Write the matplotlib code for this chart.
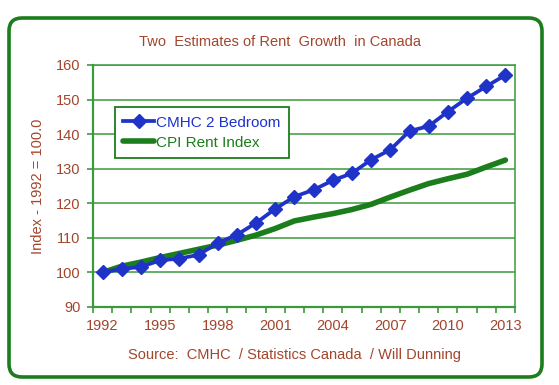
import matplotlib
matplotlib.use("Agg")
import matplotlib.pyplot as plt
from matplotlib.patches import FancyBboxPatch

years = list(range(1992, 2014))
cmhc = [100.0, 101.0, 101.6, 103.5, 104.0, 105.1, 108.5, 110.9, 114.3, 118.4, 121.9,
        123.9, 126.6, 128.7, 132.6, 135.5, 140.9, 142.3, 146.5, 150.4, 153.8, 157.1]
cpi = [100.0, 101.8, 103.0, 104.3, 105.5, 106.7, 107.9, 109.3, 110.8, 112.7, 114.9,
       116.0, 117.0, 118.2, 119.7, 121.8, 123.8, 125.7, 127.1, 128.4, 130.5, 132.5]
xtick_labels = [str(y) for y in years[::3]]
yticks = [90, 100, 110, 120, 130, 140, 150, 160]

W, H = 559, 385
brown = "#a3452c"
blue = "#1f33c8"
green = "#1b7d1b"
grid_green = "#3c9a3c"

plt.rcParams['font.family'] = ['Liberation Sans', 'DejaVu Sans']
fig = plt.figure(figsize=(W / 100, H / 100), dpi=100)

# background axes for border box
bg = fig.add_axes([0, 0, 1, 1], zorder=0)
bg.set_xlim(0, W)
bg.set_ylim(H, 0)
bg.axis('off')
bg.add_patch(FancyBboxPatch((9, 18), 533, 359, boxstyle="round,pad=0,rounding_size=13",
                            facecolor="white", edgecolor=green, linewidth=2.6))
bg.text(280, 42, "Two  Estimates of Rent  Growth  in Canada", ha='center', va='center',
        color=brown, fontsize=10.5)
bg.text(295, 355, "Source:  CMHC  / Statistics Canada  / Will Dunning", ha='center', va='center',
        color=brown, fontsize=10.5)
bg.text(38, 186, "Index - 1992 = 100.0", rotation=90, ha='center', va='center',
        color=brown, fontsize=10.5)

ax = fig.add_axes([93 / W, 1 - 307 / H, 422 / W, 242 / H], zorder=1)
ax.set_facecolor("none")
x = list(range(len(years)))
ax.plot(x, cpi, color=green, linewidth=4.0, label="CPI Rent Index", zorder=3, solid_capstyle='round')
ax.plot(x, cmhc, color=blue, linewidth=2.7, marker='D', markersize=7, markeredgecolor=blue,
        markerfacecolor=blue, label="CMHC 2 Bedroom", zorder=4)

ax.set_xlim(-0.5, len(years) - 0.5)
ax.set_ylim(90, 160)
ax.set_yticks(yticks)
ax.set_yticklabels([str(v) for v in yticks])
ax.set_xticks([i for i in range(0, len(years), 3)])
ax.set_xticklabels(xtick_labels)
ax.set_xticks([i - 0.5 for i in range(len(years) + 1)], minor=True)
ax.tick_params(axis='x', which='major', length=0, pad=9, labelcolor=brown, labelsize=10.5)
ax.tick_params(axis='x', which='minor', length=4, width=1.2, color=grid_green, direction='out')
ax.tick_params(axis='y', length=4, width=1.2, color=grid_green, labelcolor=brown, labelsize=10.5, pad=5)
ax.yaxis.grid(True, color=grid_green, linewidth=1.1)
ax.set_axisbelow(True)
for s in ax.spines.values():
    s.set_color(grid_green)
    s.set_linewidth(1.1)
ax.spines['left'].set_linewidth(1.6)
ax.spines['bottom'].set_linewidth(1.6)

handles, labels = ax.get_legend_handles_labels()
leg = ax.legend(handles[::-1], labels[::-1], loc='upper left', bbox_to_anchor=(0.052, 0.826),
                borderaxespad=0, fancybox=False, fontsize=11, labelcolor=[blue, green],
                handlelength=2.0, handletextpad=0.15, borderpad=0.55, labelspacing=0.4,
                framealpha=1, edgecolor=green)
leg.get_frame().set_linewidth(1.3)

fig.savefig("out.png", dpi=100)
